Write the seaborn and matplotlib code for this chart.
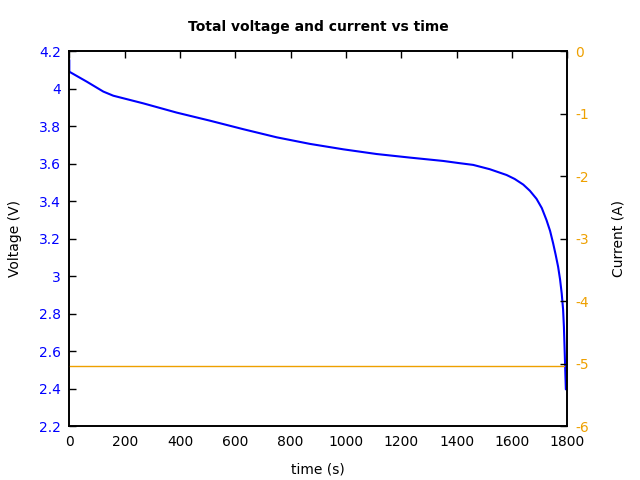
import matplotlib
matplotlib.use('Agg')
import matplotlib.pyplot as plt
import seaborn as sns
import pandas as pd
from matplotlib.ticker import FormatStrFormatter, MultipleLocator

# Data
time_s = [0, 0, 63, 123, 159, 268, 388, 508, 630, 750, 870, 991, 1111,
          1231, 1352, 1412, 1460, 1520, 1581, 1610, 1641, 1665, 1689, 1708,
          1725, 1738, 1749, 1758, 1767, 1774, 1780, 1785, 1788, 1791, 1795]
voltage_v = [4.155, 4.092, 4.039, 3.986, 3.964, 3.923, 3.874, 3.831, 3.785,
             3.742, 3.707, 3.678, 3.653, 3.634, 3.616, 3.604, 3.595, 3.572,
             3.541, 3.520, 3.490, 3.457, 3.414, 3.365, 3.301, 3.243, 3.177,
             3.117, 3.052, 2.985, 2.910, 2.825, 2.732, 2.590, 2.398]
current_time = [0, 1790]
current_a = [-5.03, -5.03]

volt_df = pd.DataFrame({'time': time_s, 'voltage': voltage_v})
curr_df = pd.DataFrame({'time': current_time, 'current': current_a})

sns.set_style('white')
plt.rcParams['font.family'] = ['DejaVu Sans']
plt.rcParams['text.color'] = 'black'
plt.rcParams['axes.labelcolor'] = 'black'

blue = '#0000ff'
orange = '#eea000'

fig = plt.figure(figsize=(6.4, 4.8), dpi=100)
ax = fig.add_axes([0.1083, 0.1115, 0.778, 0.7813])
ax2 = ax.twinx()

sns.lineplot(data=volt_df, x='time', y='voltage', ax=ax, color=blue,
             linewidth=1.5, sort=False, estimator=None)
sns.lineplot(data=curr_df, x='time', y='current', ax=ax2, color=orange,
             linewidth=1.0, estimator=None)

ax.set_xlim(0, 1800)
ax.set_ylim(2.2, 4.2)
ax2.set_ylim(-6, 0)
ax.xaxis.set_major_locator(MultipleLocator(200))
ax.yaxis.set_major_locator(MultipleLocator(0.2))
ax2.yaxis.set_major_locator(MultipleLocator(1))
ax.yaxis.set_major_formatter(FormatStrFormatter('%g'))
ax2.yaxis.set_major_formatter(FormatStrFormatter('%g'))

ax.tick_params(axis='x', direction='in', top=True, length=5, width=1,
               labelsize=10, pad=6, colors='black')
ax.tick_params(axis='y', direction='in', length=5, width=1, labelsize=10,
               labelcolor=blue, color='black', pad=6, right=False)
ax2.tick_params(axis='y', direction='in', length=5, width=1, labelsize=10,
                labelcolor=orange, color='black', pad=6)

for a in (ax, ax2):
    for sp in a.spines.values():
        sp.set_color('black')
        sp.set_linewidth(1.2)

ax.set_xlabel('time (s)', fontsize=10, labelpad=10)
ax.set_ylabel('Voltage (V)', fontsize=10, labelpad=12)
ax2.set_ylabel('Current (A)', fontsize=10, labelpad=16)
ax.set_title('Total voltage and current vs time', fontsize=10,
             fontweight='bold', pad=15, color='black')

fig.savefig('out.png', dpi=100)
